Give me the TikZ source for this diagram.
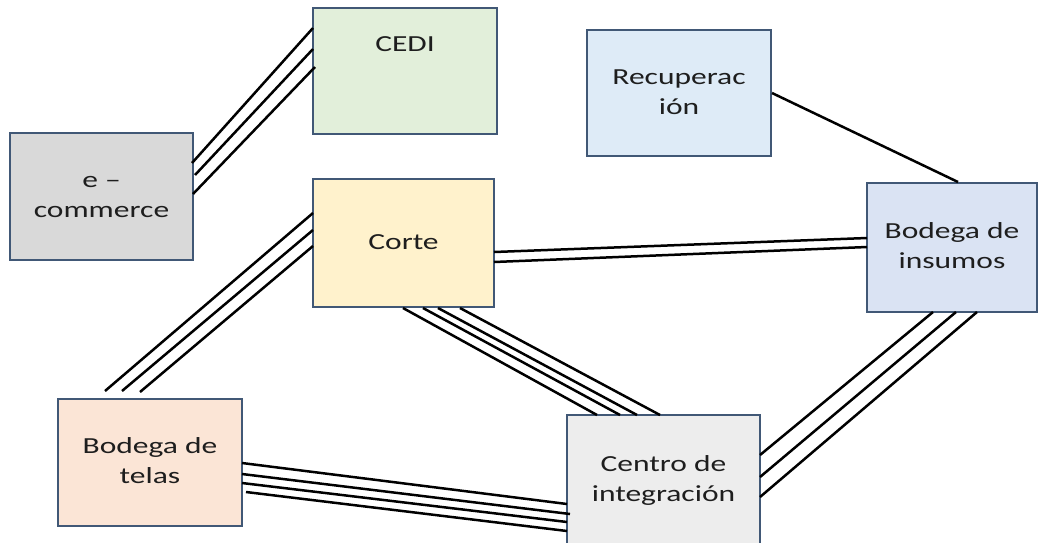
\documentclass[tikz,border=0pt]{standalone}
\usepackage{graphicx}
\usepackage{fontspec}
\setmainfont{Carlito}
\usetikzlibrary{calc}

\definecolor{edgeblue}{RGB}{65,88,118}
\definecolor{inkgray}{RGB}{30,30,30}
\definecolor{fillgreen}{HTML}{E2EFDA}
\definecolor{fillgray}{HTML}{D9D9D9}
\definecolor{fillsky}{HTML}{DEEBF7}
\definecolor{fillcream}{HTML}{FFF2CC}
\definecolor{fillsteel}{HTML}{DAE3F3}
\definecolor{fillpeach}{HTML}{FBE5D6}
\definecolor{filllight}{HTML}{EDEDED}

% wide, centred multi-line label text
\newcommand{\boxtext}[1]{\scalebox{1.37}[1]{\begin{tabular}{@{}c@{}}#1\end{tabular}}}

\begin{document}
\begin{tikzpicture}[x=1pt, y=-1pt,
  box/.style={draw=edgeblue, line width=1.4pt, inner sep=0pt, outer sep=0pt,
              anchor=north west, text=inkgray,
              font=\fontsize{23}{30}\selectfont},
  link/.style={draw=black, line width=2.5pt}]

\useasboundingbox (0,0) rectangle (1040,542);
\clip (0,0) rectangle (1040,542);

% boxes
\node[box, fill=fillgreen, minimum width=184pt, minimum height=126pt,
      label={[yshift=26pt, text=inkgray, font=\fontsize{23}{30}\selectfont]center:\boxtext{CEDI}}]
      (cedi) at (313,8) {};
\node[box, fill=fillgray, minimum width=183pt, minimum height=127pt]
      (ecom) at (10,133) {\boxtext{e --\\commerce}};
\node[box, fill=fillsky, minimum width=184pt, minimum height=126pt]
      (recu) at (587,30) {\boxtext{Recuperac\\ión}};
\node[box, fill=fillcream, minimum width=181pt, minimum height=128pt]
      (corte) at (313,179) {\boxtext{Corte}};
\node[box, fill=fillsteel, minimum width=170pt, minimum height=129pt]
      (ins) at (867,183) {\boxtext{Bodega de\\insumos}};
\node[box, fill=fillpeach, minimum width=184pt, minimum height=127pt]
      (telas) at (58,399) {\boxtext{Bodega de\\telas}};
\node[box, fill=filllight, minimum width=193pt, minimum height=130pt]
      (centro) at (567,415) {\boxtext{Centro de\\integración}};

% e-commerce -- CEDI
\draw[link] ($(ecom.north east)+(-1,30)$) -- ($(cedi.north west)+(0,20)$);
\draw[link] ($(ecom.north east)+(2,42)$) -- ($(cedi.north west)+(0,41)$);
\draw[link] ($(ecom.north east)+(0,61)$) -- ($(cedi.north west)+(2,59)$);

% Corte -- Bodega de insumos
\draw[link] ($(corte.north east)+(0,73)$) -- ($(ins.north west)+(0,55)$);
\draw[link] ($(corte.north east)+(0,83)$) -- ($(ins.north west)+(0,64)$);

% Corte -- Centro de integracion
\draw[link] ($(corte.south west)+(90,1)$) -- ($(centro.north west)+(30,0)$);
\draw[link] ($(corte.south west)+(110,1)$) -- ($(centro.north west)+(53,0)$);
\draw[link] ($(corte.south west)+(125,1)$) -- ($(centro.north west)+(70,0)$);
\draw[link] ($(corte.south west)+(147,1)$) -- ($(centro.north west)+(93,0)$);

% Corte -- Bodega de telas
\draw[link] ($(corte.north west)+(0,34)$) -- ($(telas.north west)+(47,-8)$);
\draw[link] ($(corte.north west)+(0,51)$) -- ($(telas.north west)+(64,-8)$);
\draw[link] ($(corte.north west)+(0,67)$) -- ($(telas.north west)+(82,-7)$);

% Bodega de telas -- Centro de integracion
\draw[link] ($(telas.north east)+(0,64)$) -- ($(centro.north west)+(0,89)$);
\draw[link] ($(telas.north east)+(0,75)$) -- ($(centro.north west)+(3,99)$);
\draw[link] ($(telas.north east)+(0,84)$) -- ($(centro.north west)+(0,107)$);
\draw[link] ($(telas.north east)+(4,93)$) -- ($(centro.north west)+(0,116)$);

% Centro de integracion -- Bodega de insumos
\draw[link] ($(centro.north east)+(0,40)$) -- ($(ins.south west)+(66,0)$);
\draw[link] ($(centro.north east)+(0,62)$) -- ($(ins.south west)+(89,0)$);
\draw[link] ($(centro.north east)+(0,82)$) -- ($(ins.south west)+(110,0)$);

% Recuperacion -- Bodega de insumos
\draw[link] ($(recu.north east)+(1,63)$) -- ($(ins.north west)+(91,-1)$);

\end{tikzpicture}
\end{document}
